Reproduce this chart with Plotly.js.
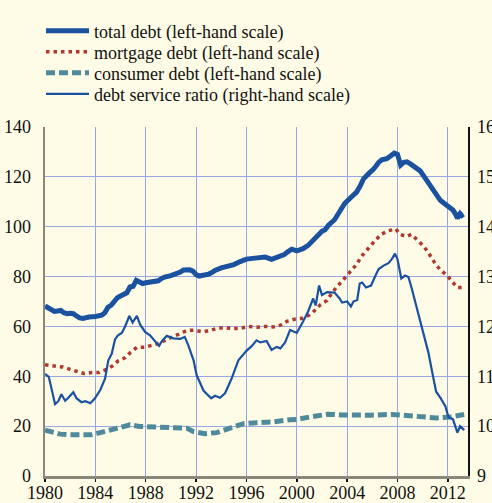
<!DOCTYPE html>
<html><head><meta charset="utf-8">
<script src="https://cdn.plot.ly/plotly-3.0.1.min.js"></script>
<style>html,body{margin:0;padding:0;background:#fefce6;}#chart{width:492px;height:503px;}</style>
</head><body><div id="chart"></div>
<script>
// Total debt (left-hand scale)
const totalYears = [1980.0,1980.25,1980.5,1980.75,1981.0,1981.25,1981.5,1981.75,1982.0,1982.25,1982.5,1982.75,1983.0,1983.25,1983.5,1984.0,1984.5,1984.75,1985.0,1985.25,1985.5,1985.75,1986.0,1986.25,1986.5,1986.75,1987.0,1987.25,1987.5,1987.75,1988.0,1988.5,1988.75,1989.0,1989.25,1989.5,1990.0,1990.5,1990.75,1991.0,1991.25,1991.5,1991.75,1992.0,1992.25,1992.5,1992.75,1993.0,1993.25,1993.5,1994.0,1994.5,1995.0,1995.5,1996.0,1996.5,1997.0,1997.5,1998.0,1998.25,1998.75,1999.0,1999.25,1999.6,2000.0,2000.5,2000.9,2001.25,2001.5,2001.75,2002.0,2002.25,2002.5,2003.0,2003.25,2003.5,2003.8,2004.25,2004.75,2005.0,2005.3,2005.75,2006.1,2006.5,2006.75,2007.15,2007.5,2007.75,2008.0,2008.25,2008.5,2008.75,2009.0,2009.25,2009.5,2009.8,2010.2,2010.6,2011.0,2011.4,2011.75,2012.0,2012.4,2012.6,2012.76,2012.97,2013.1,2013.25];
const totalDebt = [68.2,67.5,66.5,66.0,66.2,66.4,65.5,65.1,65.3,65.1,64.2,63.4,63.2,63.6,63.8,64.0,64.5,65.5,67.7,68.5,70.0,71.5,72.2,73.0,73.5,75.8,76.1,78.5,77.8,77.2,77.5,77.8,78.0,78.3,79.2,79.8,80.4,81.2,81.8,82.6,82.8,82.7,82.2,80.8,80.2,80.4,80.8,81.0,81.6,82.5,83.5,84.0,84.8,86.0,87.0,87.3,87.5,87.8,86.9,87.3,88.0,88.8,89.8,91.0,90.3,91.2,92.5,94.5,95.5,97.5,98.2,98.8,100.5,102.8,105.0,107.0,109.3,111.5,113.9,116.0,119.2,121.5,123.1,125.8,126.8,127.3,128.5,129.5,129.0,124.7,125.8,126.0,125.3,124.5,123.6,122.4,119.5,116.5,113.5,110.6,109.2,108.2,106.7,105.2,103.4,105.2,104.5,105.0];

// Mortgage debt (left-hand scale)
const mortgageYears = [1980.0,1980.8,1981.4,1982.0,1982.5,1983.1,1983.7,1984.3,1984.9,1985.35,1985.8,1986.38,1986.8,1987.3,1987.9,1988.5,1989.06,1989.6,1990.2,1990.8,1991.3,1991.9,1992.5,1993.1,1993.7,1994.35,1994.96,1995.6,1996.2,1996.9,1997.5,1998.1,1998.7,1999.25,1999.9,2000.5,2001.0,2001.5,2001.85,2002.4,2002.8,2003.2,2003.6,2004.0,2004.4,2004.77,2005.1,2005.5,2005.9,2006.3,2006.75,2007.3,2007.87,2008.2,2008.7,2009.1,2009.6,2010.0,2010.4,2010.75,2011.07,2011.47,2011.97,2012.37,2012.76,2013.24];
const mortgageDebt = [44.6,44.0,43.7,42.8,42.0,41.1,41.5,41.5,42.8,44.1,46.1,47.5,49.6,51.6,51.6,52.6,53.3,54.6,55.9,57.0,58.4,58.5,57.8,58.4,59.3,59.4,59.1,59.3,60.0,59.7,60.0,59.8,60.5,62.1,63.0,63.3,64.6,66.7,68.6,70.4,73.5,75.9,78.1,80.4,82.7,85.0,87.9,90.3,92.9,94.9,97.1,98.4,99.1,96.9,96.1,96.9,94.6,92.6,90.0,87.4,84.6,82.4,80.3,77.8,75.6,75.6];

// Consumer debt (left-hand scale)
const consumerYears = [1980.0,1980.6,1981.2,1982.0,1982.8,1983.6,1984.4,1985.2,1986.1,1986.75,1987.5,1988.6,1989.4,1990.5,1991.26,1991.8,1992.7,1993.65,1994.7,1995.76,1996.8,1998.1,1999.5,2000.0,2001.06,2001.85,2002.5,2003.5,2004.5,2005.8,2007.55,2008.2,2009.4,2010.3,2011.1,2012.2,2013.3];
const consumerDebt = [18.4,17.5,16.8,16.5,16.3,16.5,17.4,18.6,19.7,20.5,19.9,19.7,19.9,19.7,19.2,17.8,17.0,17.4,19.2,21.0,21.4,21.7,22.6,22.7,23.7,24.5,24.8,24.5,24.4,24.4,24.7,24.4,23.7,23.3,23.3,23.7,24.7];

// Debt service ratio (right-hand scale)
const dsrYears = [1980.0,1980.3,1980.8,1981.06,1981.3,1981.6,1981.85,1982.25,1982.5,1982.9,1983.2,1983.6,1983.97,1984.4,1984.77,1985.03,1985.3,1985.56,1985.8,1986.1,1986.36,1986.7,1986.96,1987.3,1987.55,1987.95,1988.34,1988.74,1989.06,1989.3,1989.67,1990.2,1990.73,1991.1,1991.4,1991.8,1992.05,1992.6,1993.2,1993.5,1993.9,1994.3,1994.8,1995.36,1996.0,1996.4,1996.8,1997.1,1997.6,1998.0,1998.4,1998.7,1999.07,1999.47,2000.0,2000.5,2000.9,2001.3,2001.5,2001.77,2002.0,2002.4,2003.0,2003.4,2003.6,2004.0,2004.3,2004.5,2004.8,2005.0,2005.2,2005.5,2005.9,2006.2,2006.5,2006.9,2007.28,2007.55,2007.8,2008.0,2008.3,2008.6,2008.87,2009.1,2009.4,2009.9,2010.45,2010.86,2011.07,2011.4,2011.8,2012.05,2012.4,2012.76,2012.97,2013.3];
const debtServiceRatio = [11.05,10.99,10.44,10.50,10.64,10.51,10.57,10.68,10.56,10.48,10.50,10.46,10.56,10.73,10.95,11.32,11.45,11.74,11.82,11.87,12.0,12.21,12.08,12.21,12.04,11.89,11.82,11.71,11.61,11.71,11.81,11.76,11.75,11.79,11.61,11.32,11.02,10.71,10.56,10.61,10.57,10.66,10.94,11.32,11.51,11.60,11.72,11.68,11.71,11.53,11.59,11.56,11.68,11.93,11.87,12.10,12.30,12.56,12.42,12.82,12.63,12.69,12.68,12.56,12.48,12.50,12.40,12.50,12.53,12.86,12.88,12.78,12.82,12.99,13.15,13.22,13.27,13.35,13.46,13.35,12.96,13.02,12.99,12.79,12.50,12.04,11.48,10.95,10.69,10.57,10.40,10.18,10.14,9.87,10.00,9.92];

const xTicks = [1980,1984,1988,1992,1996,2000,2004,2008,2012];
const leftTicks = [0,20,40,60,80,100,120,140];
const rightTicks = [9,10,11,12,13,14,15,16];
const legendNames = ["total debt (left-hand scale)","mortgage debt (left-hand scale)","consumer debt (left-hand scale)","debt service ratio (right-hand scale)"];

const blue = '#1a52a0', red = '#b0382c', teal = '#4f8a9c';
const FONT = 'Liberation Serif';
const TXT = '#111111';

const traces = [
  {x: totalYears, y: totalDebt, name: legendNames[0], mode:'lines', line:{color:blue, width:5}, legend:'legend'},
  {x: mortgageYears, y: mortgageDebt, name: legendNames[1], mode:'lines', line:{color:red, width:3.5, dash:'3.5px,4px'}, legend:'legend2'},
  {x: consumerYears, y: consumerDebt, name: legendNames[2], mode:'lines', line:{color:teal, width:5, dash:'9px,4px'}, legend:'legend3'},
  {x: dsrYears, y: debtServiceRatio, name: legendNames[3], mode:'lines', line:{color:blue, width:2.2}, yaxis:'y2', legend:'legend4'}
];

function leg(yPix){
  return {x:(41-45)/423, xanchor:'left', y:1+(120-yPix)/356, yanchor:'middle', bgcolor:'rgba(0,0,0,0)', borderwidth:0,
    font:{family:FONT, size:18, color:TXT}, itemwidth:43};
}

const layout = {
  width:492, height:503,
  margin:{l:45, r:24, t:120, b:27},
  paper_bgcolor:'#fefce6', plot_bgcolor:'#fefce6',
  font:{family:FONT, size:18, color:TXT},
  showlegend:true,
  legend: leg(22), legend2: leg(43.5), legend3: leg(65), legend4: leg(86.5),
  xaxis:{range:[1980,2013.6], tickvals:xTicks, ticktext:xTicks.map(String), showgrid:true, gridcolor:'#9aa5e4', gridwidth:1,
    zeroline:false, showline:true, linecolor:'#8a887a', linewidth:2.5, ticks:'outside', ticklen:3, tickcolor:'#111', tickwidth:1.5,
    ticklabelstandoff:-4, tickfont:{family:FONT, size:18, color:TXT}},
  yaxis:{range:[0,140], tickvals:leftTicks, showgrid:true, gridcolor:'#9aa5e4', gridwidth:1, zeroline:false,
    showline:true, linecolor:'#8a887a', linewidth:2.5, ticks:'', ticklabelstandoff:8,
    tickfont:{family:FONT, size:18, color:TXT}},
  yaxis2:{range:[9,16], tickvals:rightTicks, overlaying:'y', side:'right', showgrid:false, zeroline:false,
    showline:true, linecolor:'#111', linewidth:1.5, ticks:'', ticklabelstandoff:4,
    tickfont:{family:FONT, size:18, color:TXT}}
};

Plotly.newPlot('chart', traces, layout, {staticPlot:true, displayModeBar:false});
</script></body></html>
